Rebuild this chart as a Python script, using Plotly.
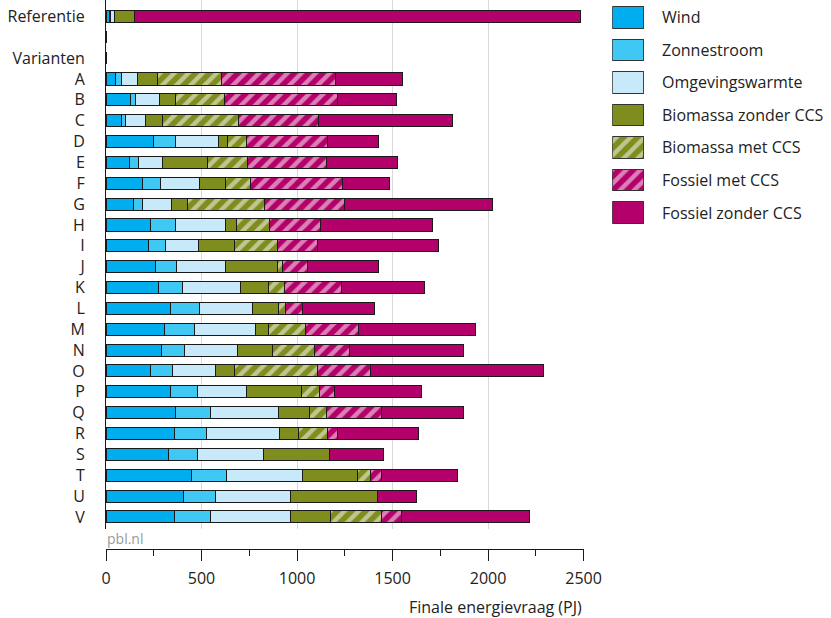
import plotly.graph_objects as go

categories = ["Referentie", " ", "Varianten", "A", "B", "C", "D", "E", "F", "G", "H", "I", "J",
              "K", "L", "M", "N", "O", "P", "Q", "R", "S", "T", "U", "V"]

series_names = ["Wind", "Zonnestroom", "Omgevingswarmte", "Biomassa zonder CCS",
                "Biomassa met CCS", "Fossiel met CCS", "Fossiel zonder CCS"]

wind =        [20, 0, 0, 50, 126, 79, 249, 124, 193, 143, 232, 220, 261, 275, 337, 308, 292, 232, 337, 365, 361, 329, 445, 406, 361]
zonnestroom = [5, 0, 0, 29, 31, 21, 116, 48, 93, 46, 133, 90, 107, 124, 151, 156, 117, 117, 141, 182, 164, 149, 185, 167, 184]
omgeving =    [21, 0, 0, 88, 123, 108, 223, 122, 202, 152, 261, 172, 255, 304, 279, 317, 277, 222, 255, 354, 385, 344, 400, 394, 422]
bio_zonder =  [104, 0, 0, 103, 83, 88, 50, 236, 135, 86, 55, 191, 275, 147, 134, 69, 188, 102, 292, 164, 96, 346, 288, 454, 206]
bio_met =     [0, 0, 0, 335, 258, 395, 98, 210, 134, 405, 177, 225, 27, 82, 40, 196, 218, 433, 95, 87, 153, 0, 67, 0, 268]
fos_met =     [0, 0, 0, 597, 590, 420, 422, 412, 480, 418, 263, 208, 131, 301, 88, 278, 181, 279, 75, 291, 52, 0, 56, 0, 105]
fos_zonder =  [2336, 0, 0, 351, 311, 704, 270, 375, 249, 774, 590, 635, 372, 434, 376, 608, 600, 904, 458, 430, 423, 284, 398, 203, 671]

series_values = [wind, zonnestroom, omgeving, bio_zonder, bio_met, fos_met, fos_zonder]
colors = ["#00AEEF", "#40C8F4", "#C8E9FA", "#7F8C1E", "#7F8C1E", "#B4006A", "#B4006A"]
hatched = [False, False, False, False, True, True, False]

x_ticks = [0, 500, 1000, 1500, 2000, 2500]

FONT = "Open Sans"
LINE = "#1a1a1a"
TXT = "#222222"

fig = go.Figure()

for name, vals, col, h in zip(series_names, series_values, colors, hatched):
    marker = dict(color=col, line=dict(color=LINE, width=1))
    if h:
        marker["pattern"] = dict(shape="/", fgcolor="white", bgcolor=col, size=10, solidity=0.45)
    fig.add_trace(go.Bar(
        y=categories, x=vals, name=name, orientation="h", marker=marker,
        width=0.58, showlegend=False, xaxis="x", yaxis="y"))

# legend drawn as a small subplot of swatches
for i, (name, col, h) in enumerate(zip(series_names, colors, hatched)):
    marker = dict(color=col, line=dict(color="#333333", width=1))
    if h:
        marker["pattern"] = dict(shape="/", fgcolor="white", bgcolor=col, size=10, solidity=0.45)
    fig.add_trace(go.Bar(
        y=[i], x=[1], orientation="h", marker=marker, width=0.667,
        showlegend=False, xaxis="x2", yaxis="y2", hoverinfo="skip"))
    fig.add_annotation(text=name, xref="paper", yref="y2", x=(666 - 106) / 715, y=i,
                       xanchor="left", yanchor="middle", showarrow=False,
                       font=dict(family=FONT, size=16, color=TXT))

fig.add_annotation(text="pbl.nl", xref="paper", yref="paper", x=-0.002, y=(549 - 538) / 549,
                   xanchor="left", yanchor="middle", showarrow=False,
                   font=dict(family=FONT, size=14, color="#9a9a9a"))
fig.add_annotation(text="Finale energievraag (PJ)", xref="x domain", yref="paper", x=1.0,
                   y=(549 - 607) / 549, xanchor="right", yanchor="middle", showarrow=False,
                   font=dict(family=FONT, size=16, color=TXT))

fig.update_layout(
    barmode="stack",
    width=831, height=618,
    margin=dict(l=106, r=10, t=0, b=69),
    paper_bgcolor="white", plot_bgcolor="white",
    font=dict(family=FONT, size=16, color=TXT),
    xaxis=dict(domain=[0, 483 / 715], range=[0, 2500], anchor="free", position=0,
               tickvals=x_ticks, ticktext=[str(v) for v in x_ticks],
               showgrid=True, gridcolor="#d9d9d9", gridwidth=1, zeroline=False,
               showline=True, linecolor=LINE, linewidth=1,
               ticks="outside", ticklen=11, tickcolor=LINE, tickwidth=1,
               ticklabelstandoff=4,
               minor=dict(dtick=250, tick0=0, ticks="outside", ticklen=6, tickcolor=LINE, showgrid=False),
               tickfont=dict(family=FONT, size=16, color=TXT)),
    yaxis=dict(domain=[20 / 549, 1], type="category", categoryorder="array", categoryarray=categories,
               range=[24.58, -0.79], showgrid=False, zeroline=False, automargin=False,
               showline=True, linecolor=LINE, linewidth=1, ticks="", ticklabelstandoff=17,
               tickfont=dict(family=FONT, size=16, color=TXT)),
    xaxis2=dict(domain=[(618 - 106) / 715, (650 - 106) / 715], range=[0, 1], anchor="y2",
                visible=False, fixedrange=True),
    yaxis2=dict(domain=[(549 - 228.75) / 549, 1], range=[6.5, -0.538], anchor="x2",
                visible=False, fixedrange=True),
)

fig.write_html("out.html", config={"displayModeBar": False},
               post_script="document.body.style.margin='0';")
